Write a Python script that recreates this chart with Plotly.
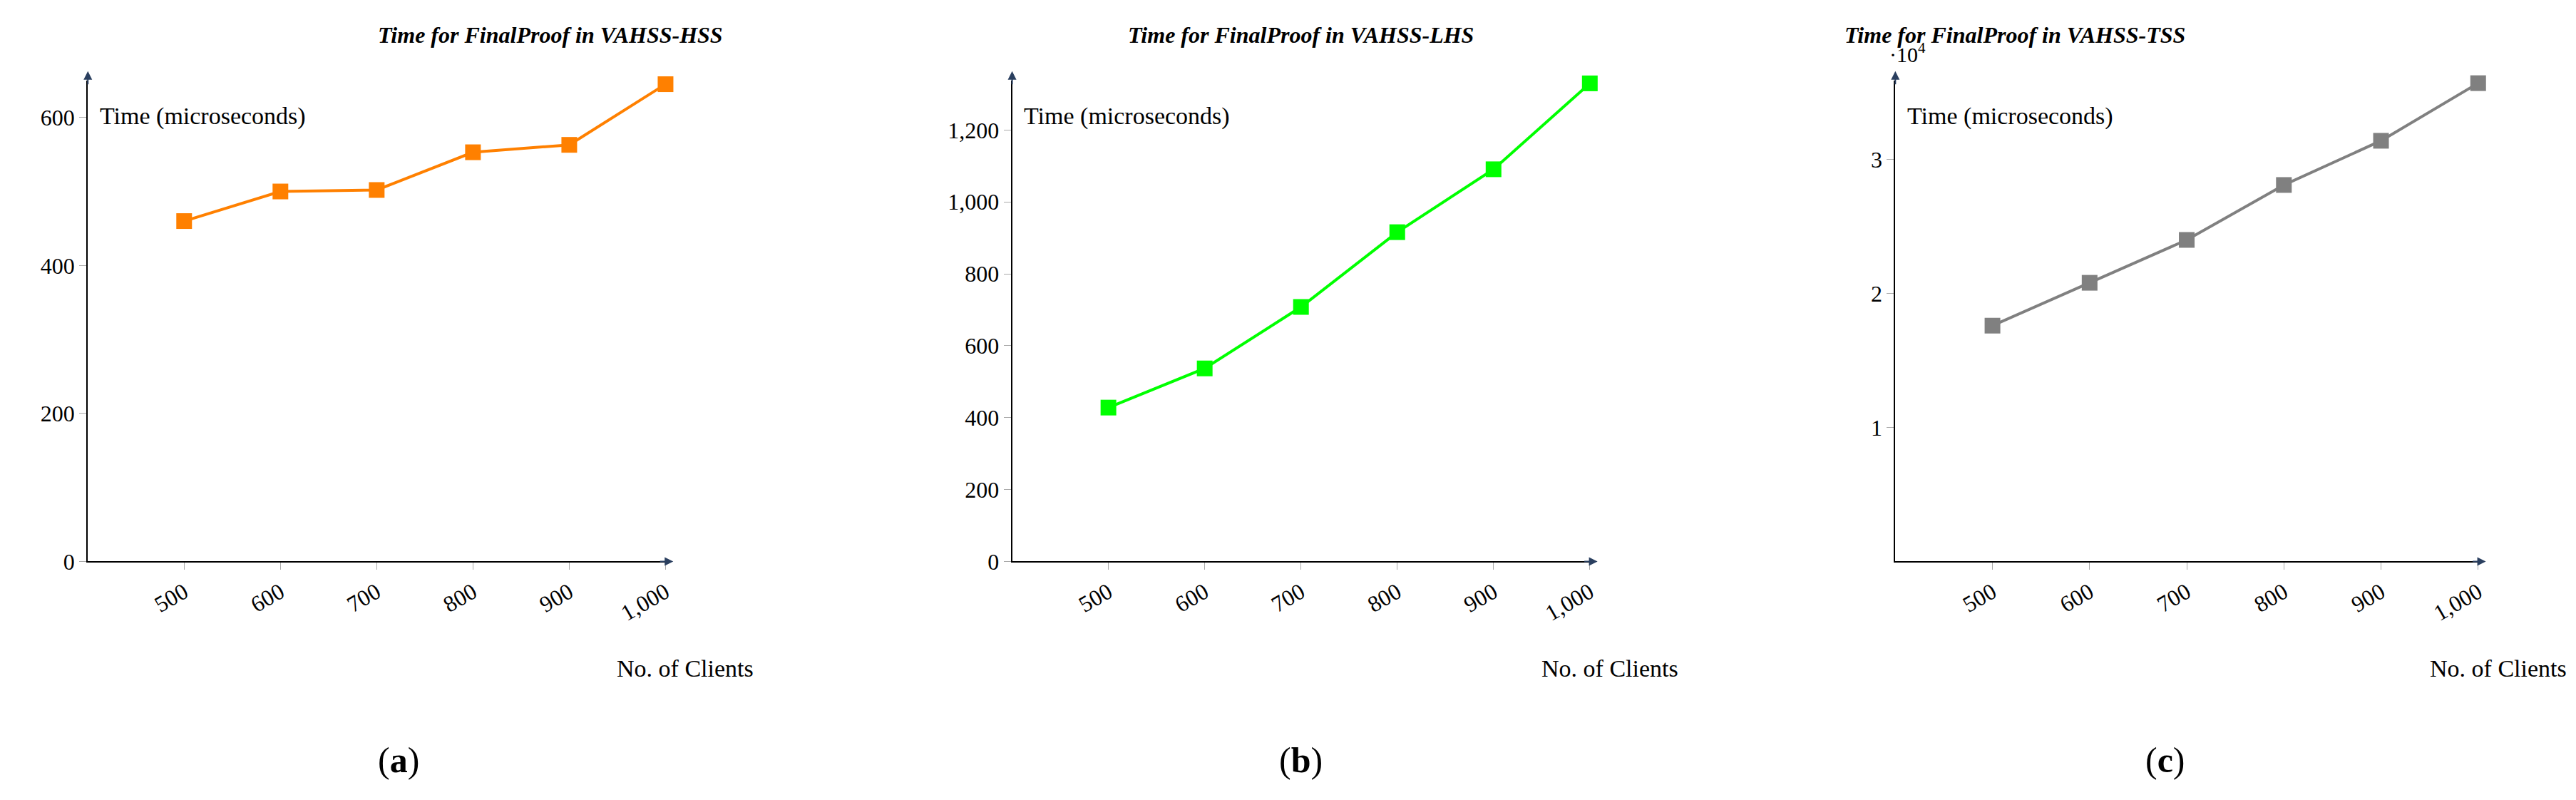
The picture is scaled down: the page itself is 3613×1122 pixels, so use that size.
import plotly.graph_objects as go

clients = [500, 600, 700, 800, 900, 1000]
hss_time = [460, 500, 502, 553, 563, 645]
lhs_time = [428, 537, 708, 916, 1091, 1330]
tss_time = [17600, 20800, 24000, 28100, 31400, 35700]

titles = ["Time for FinalProof in VAHSS-HSS",
          "Time for FinalProof in VAHSS-LHS",
          "Time for FinalProof in VAHSS-TSS"]
captions = ["a", "b", "c"]
colors = ["#ff8000", "#00ff00", "#808080"]
series = [hss_time, lhs_time, tss_time]

W, H = 3613, 1122
FONT = "Liberation Serif"
x_doms = [(0.032, 0.257), (0.392, 0.617), (0.736, 0.963)]
y_dom = (0.294, 0.905)
y_ranges = [(0, 650), (0, 1338), (0, 35900)]

fig = go.Figure()
annotations = []
for i in range(3):
    sfx = "" if i == 0 else str(i + 1)
    fig.add_trace(go.Scatter(
        x=clients, y=series[i], mode="lines+markers",
        line=dict(color=colors[i], width=4),
        marker=dict(symbol="square", size=22, color=colors[i]),
        xaxis="x" + sfx, yaxis="y" + sfx, showlegend=False, cliponaxis=False,
    ))
    xa = dict(domain=list(x_doms[i]), range=[400, 1000], anchor="y" + sfx,
              tickvals=clients, tickformat=",", tickangle=-30,
              showline=True, linecolor="black", linewidth=2,
              ticks="outside", ticklen=10, tickcolor="#aaa",
              showgrid=False, zeroline=False,
              tickfont=dict(family=FONT, size=32, color="black"))
    ya = dict(domain=list(y_dom), range=list(y_ranges[i]), anchor="x" + sfx,
              showline=True, linecolor="black", linewidth=2,
              ticks="outside", ticklen=10, tickcolor="#aaa",
              showgrid=False, zeroline=False, tickformat=",",
              tickfont=dict(family=FONT, size=32, color="black"))
    if i == 2:
        ya["tickvals"] = [10000, 20000, 30000]
        ya["ticktext"] = ["1", "2", "3"]
    else:
        ya["dtick"] = 200
        ya["tick0"] = 200
    fig.update_layout({"xaxis" + sfx: xa, "yaxis" + sfx: ya})

    x0, x1 = x_doms[i]
    xc = (x0 + x1) / 2
    # axis arrows
    annotations.append(dict(xref="paper", yref="paper", x=x1 + 0.003, y=y_dom[0],
                            ax=-20, ay=0, showarrow=True, arrowhead=2,
                            arrowsize=1.2, arrowwidth=2, text=""))
    annotations.append(dict(xref="paper", yref="paper", x=x0, y=y_dom[1] + 0.012,
                            ax=0, ay=20, showarrow=True, arrowhead=2,
                            arrowsize=1.2, arrowwidth=2, text=""))
    annotations.append(dict(xref="paper", yref="paper", x=xc, y=0.963, yanchor="middle",
                            text="<b><i>" + titles[i] + "</i></b>", showarrow=False,
                            font=dict(family=FONT, size=32, color="black")))
    annotations.append(dict(xref="paper", yref="paper", x=x0 + 0.004, y=0.86, xanchor="left",
                            yanchor="middle", text="Time (microseconds)", showarrow=False,
                            font=dict(family=FONT, size=34, color="black")))
    annotations.append(dict(xref="paper", yref="paper", x=x1 + 0.035, y=0.158, xanchor="right",
                            yanchor="middle", text="No. of Clients", showarrow=False,
                            font=dict(family=FONT, size=34, color="black")))
    annotations.append(dict(xref="paper", yref="paper", x=xc, y=0.042, yanchor="middle",
                            text="(<b>" + captions[i] + "</b>)", showarrow=False,
                            font=dict(family=FONT, size=50, color="black")))

annotations.append(dict(xref="paper", yref="paper", x=0.736 - 0.003, y=0.94, xanchor="left",
                        yanchor="middle", text="·10<sup>4</sup>", showarrow=False,
                        font=dict(family=FONT, size=30, color="black")))

fig.update_layout(width=W, height=H, margin=dict(l=0, r=0, t=0, b=0),
                  plot_bgcolor="white", paper_bgcolor="white",
                  annotations=annotations)

fig.write_html("out.html")
